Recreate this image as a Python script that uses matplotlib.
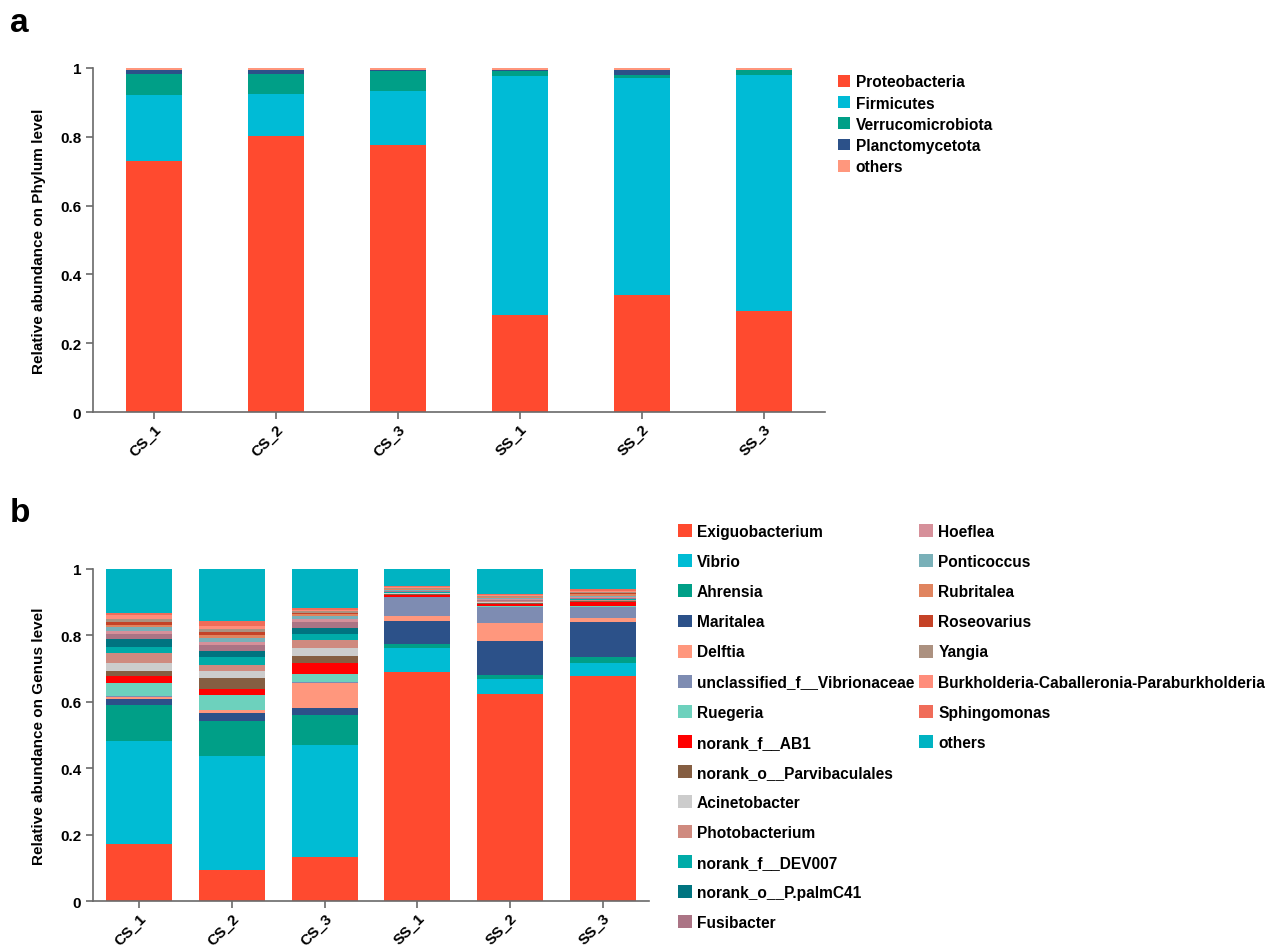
import matplotlib
matplotlib.use("Agg")
import matplotlib.pyplot as plt
from matplotlib.patches import Patch

plt.rcParams['font.family'] = ['Liberation Sans', 'DejaVu Sans']
plt.rcParams['font.weight'] = 'bold'

samples = ["CS_1", "CS_2", "CS_3", "SS_1", "SS_2", "SS_3"]

# panel a: phylum level
phyla = ["Proteobacteria", "Firmicutes", "Verrucomicrobiota", "Planctomycetota", "others"]
phylum_colors = ["#FF4A2F", "#00BBD6", "#009F87", "#2C5189", "#FF977D"]
proteobacteria = [0.729, 0.801, 0.777, 0.282, 0.340, 0.294]
firmicutes = [0.192, 0.123, 0.157, 0.694, 0.631, 0.685]
verrucomicrobiota = [0.061, 0.058, 0.056, 0.014, 0.009, 0.014]
planctomycetota = [0.013, 0.012, 0.004, 0.003, 0.014, 0.002]
phylum_others = [0.005, 0.006, 0.006, 0.007, 0.006, 0.005]
phylum_values = [proteobacteria, firmicutes, verrucomicrobiota, planctomycetota, phylum_others]

# panel b: genus level, one list per genus (CS_1 .. SS_3)
genera = ["Exiguobacterium", "Vibrio", "Ahrensia", "Maritalea", "Delftia",
          "unclassified_f__Vibrionaceae", "Ruegeria", "norank_f__AB1",
          "norank_o__Parvibaculales", "Acinetobacter", "Photobacterium",
          "norank_f__DEV007", "norank_o__P.palmC41", "Fusibacter", "Hoeflea",
          "Ponticoccus", "Rubritalea", "Roseovarius", "Yangia",
          "Burkholderia-Caballeronia-Paraburkholderia", "Sphingomonas", "others"]
genus_colors = ["#FF4A2F", "#00BCD4", "#009F87", "#2C5189", "#FF977D",
                "#7E8CB2", "#6DD1BD", "#FF0000", "#855E42", "#CCCCCC", "#CF8A7F",
                "#00ABA8", "#007480", "#AB7485", "#D6909A", "#79B0B8", "#E0845F",
                "#C54227", "#AC9180", "#FF8D7B", "#F06C59", "#00B3C2"]
exiguobacterium = [0.172, 0.094, 0.134, 0.689, 0.624, 0.677]
vibrio = [0.309, 0.344, 0.337, 0.072, 0.045, 0.039]
ahrensia = [0.108, 0.103, 0.090, 0.013, 0.013, 0.020]
maritalea = [0.020, 0.025, 0.021, 0.069, 0.102, 0.104]
delftia = [0.006, 0.008, 0.075, 0.014, 0.053, 0.013]
vibrionaceae = [0.002, 0.002, 0.002, 0.058, 0.048, 0.032]
ruegeria = [0.039, 0.043, 0.025, 0.002, 0.003, 0.004]
ab1 = [0.023, 0.020, 0.033, 0.006, 0.006, 0.012]
parvibaculales = [0.015, 0.033, 0.022, 0.002, 0.004, 0.002]
acinetobacter = [0.023, 0.022, 0.022, 0.002, 0.003, 0.002]
photobacterium = [0.029, 0.017, 0.025, 0.002, 0.002, 0.003]
dev007 = [0.020, 0.023, 0.019, 0.001, 0.001, 0.002]
palmc41 = [0.023, 0.018, 0.016, 0.001, 0.001, 0.001]
fusibacter = [0.015, 0.019, 0.019, 0.002, 0.002, 0.003]
hoeflea = [0.010, 0.010, 0.010, 0.002, 0.003, 0.002]
ponticoccus = [0.010, 0.010, 0.007, 0.002, 0.003, 0.003]
rubritalea = [0.008, 0.010, 0.006, 0.003, 0.002, 0.006]
roseovarius = [0.009, 0.010, 0.005, 0.001, 0.002, 0.004]
yangia = [0.009, 0.008, 0.005, 0.002, 0.003, 0.003]
burkholderia = [0.010, 0.010, 0.004, 0.003, 0.002, 0.003]
sphingomonas = [0.008, 0.015, 0.005, 0.003, 0.004, 0.005]
genus_others = [0.132, 0.156, 0.118, 0.051, 0.074, 0.060]
genus_values = [exiguobacterium, vibrio, ahrensia, maritalea, delftia, vibrionaceae,
                ruegeria, ab1, parvibaculales, acinetobacter, photobacterium, dev007,
                palmc41, fusibacter, hoeflea, ponticoccus, rubritalea, roseovarius,
                yangia, burkholderia, sphingomonas, genus_others]

FS = 11
LEG_FS = 11.2
AXIS_GREY = "#6a6a6a"


def stacked(ax, values, colors, width):
    x = list(range(len(samples)))
    bottom = [0.0] * len(samples)
    for vals, col in zip(values, colors):
        ax.bar(x, vals, width=width, bottom=bottom, color=col, linewidth=0)
        bottom = [b + v for b, v in zip(bottom, vals)]
    ax.set_xlim(-0.5, len(samples) - 0.5)
    ax.set_ylim(0, 1)
    ax.set_yticks([0, 0.2, 0.4, 0.6, 0.8, 1])
    ax.set_yticklabels(["0", "0.2", "0.4", "0.6", "0.8", "1"], fontsize=FS, fontweight='bold')
    ax.set_xticks(x)
    ax.set_xticklabels(samples, rotation=45, ha='right', va='top',
                       rotation_mode='anchor', fontsize=FS, fontweight='bold')
    for s in ["top", "right"]:
        ax.spines[s].set_visible(False)
    for s in ["left", "bottom"]:
        ax.spines[s].set_color(AXIS_GREY)
        ax.spines[s].set_linewidth(1.2)
    ax.tick_params(axis='both', colors=AXIS_GREY, labelcolor='black',
                   length=5, width=1.2, direction='out')
    ax.tick_params(axis='x', pad=2)


def legend(ax, handles, labels, anchor, spacing, size):
    return ax.legend(handles, labels, loc='upper left', bbox_to_anchor=anchor,
                     bbox_transform=fig.transFigure, frameon=False, fontsize=LEG_FS,
                     handlelength=size, handleheight=size, handletextpad=0.35,
                     labelspacing=spacing, borderpad=0, borderaxespad=0)


fig = plt.figure(figsize=(12.81, 9.53), dpi=100)

ax_a = fig.add_axes([0.0726, 0.5666, 0.5714, 0.361])
stacked(ax_a, phylum_values, phylum_colors, 0.46)
ax_a.set_ylabel("Relative abundance on Phylum level", fontsize=FS, fontweight='bold', labelpad=10)
handles_a = [Patch(facecolor=c, edgecolor='none') for c in phylum_colors]
legend(ax_a, handles_a, phyla, (0.654, 0.921), 0.40, 0.8)

ax_b = fig.add_axes([0.0726, 0.0535, 0.434, 0.3484])
stacked(ax_b, genus_values, genus_colors, 0.71)
ax_b.set_ylabel("Relative abundance on Genus level", fontsize=FS, fontweight='bold', labelpad=10)
handles_b = [Patch(facecolor=c, edgecolor='none') for c in genus_colors]
leg1 = legend(ax_b, handles_b[:14], genera[:14], (0.529, 0.449), 0.97, 0.9)
ax_b.add_artist(leg1)
legend(ax_b, handles_b[14:], genera[14:], (0.7174, 0.449), 0.97, 0.9)

fig.text(0.008, 0.992, "a", fontsize=24, fontweight='bold', va='top')
fig.text(0.008, 0.477, "b", fontsize=24, fontweight='bold', va='top')

fig.savefig("out.png", dpi=100)
